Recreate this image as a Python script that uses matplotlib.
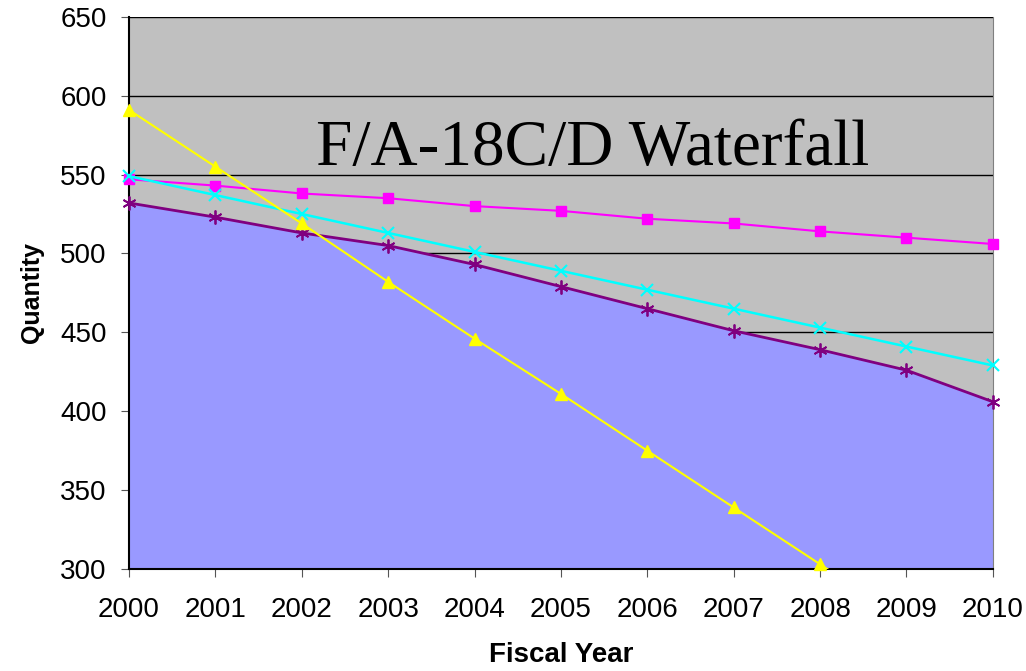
import numpy as np
import matplotlib.pyplot as plt

# data
years = np.arange(2000, 2011)
area_qty = [532, 523, 513, 505, 493, 479, 465, 451, 439, 426, 406]
magenta_qty = [547, 543, 538, 535, 530, 527, 522, 519, 514, 510, 506]
cyan_qty = [549, 537, 525, 513, 501, 489, 477, 465, 453, 441, 429]
purple_qty = [532, 523, 513, 505, 493, 479, 465, 451, 439, 426, 406]
yellow_qty = [591, 555, 519, 482, 446, 411, 375, 339, 303, 267, 231]

plt.rcParams['font.family'] = ['Liberation Sans', 'DejaVu Sans']

fig = plt.figure(figsize=(10.26, 6.71), dpi=100)
ax = fig.add_axes([0.1257, 0.152, 0.842, 0.823])

ax.set_facecolor('#C0C0C0')
ax.fill_between(years, 0, area_qty, color='#9999FF', zorder=2)

# grid lines
for v in range(350, 651, 50):
    ax.axhline(v, color='black', linewidth=1, zorder=1)

ax.plot(years, magenta_qty, color='#FF00FF', marker='s', markersize=7, linewidth=1.5,
        zorder=4, clip_on=False)
ax.plot(years, cyan_qty, color='#00FFFF', marker='x', markersize=9, markeredgewidth=1.5,
        linewidth=1.8, zorder=4, clip_on=False)
ax.plot(years, purple_qty, color='#800080', marker=(6, 2, 0), markersize=10,
        markeredgewidth=1.3, linewidth=2, zorder=4, clip_on=False)

# yellow line goes off the bottom: clip the line, keep visible markers unclipped
yq = np.array(yellow_qty)
ax.plot(years, yq, color='#FFFF00', linewidth=1.5, zorder=5)
vis = yq >= 300
ax.plot(years[vis], yq[vis], color='#FFFF00', marker='^', markersize=9, linestyle='none',
        zorder=5, clip_on=False)

ax.set_xlim(2000, 2010)
ax.set_ylim(300, 650)
ax.set_xticks(years)
ax.set_yticks(range(300, 651, 50))
ax.tick_params(axis='both', labelsize=20, length=6, color='#555555')
ax.tick_params(axis='x', pad=14)
ax.tick_params(axis='y', pad=10)

ax.spines['top'].set_visible(False)
ax.spines['right'].set_color('#808080')
ax.spines['left'].set_linewidth(1.5)
ax.spines['bottom'].set_linewidth(1.5)

ax.set_xlabel('Fiscal Year', fontsize=20, fontweight='bold', labelpad=14)
ax.set_ylabel('Quantity', fontsize=18, fontweight='bold', labelpad=12)

ax.text(0.537, 0.732, 'F/A-18C/D Waterfall', transform=ax.transAxes, ha='center',
        va='baseline', fontsize=47, family='Liberation Serif', zorder=6)

fig.savefig('out.png', dpi=100)
